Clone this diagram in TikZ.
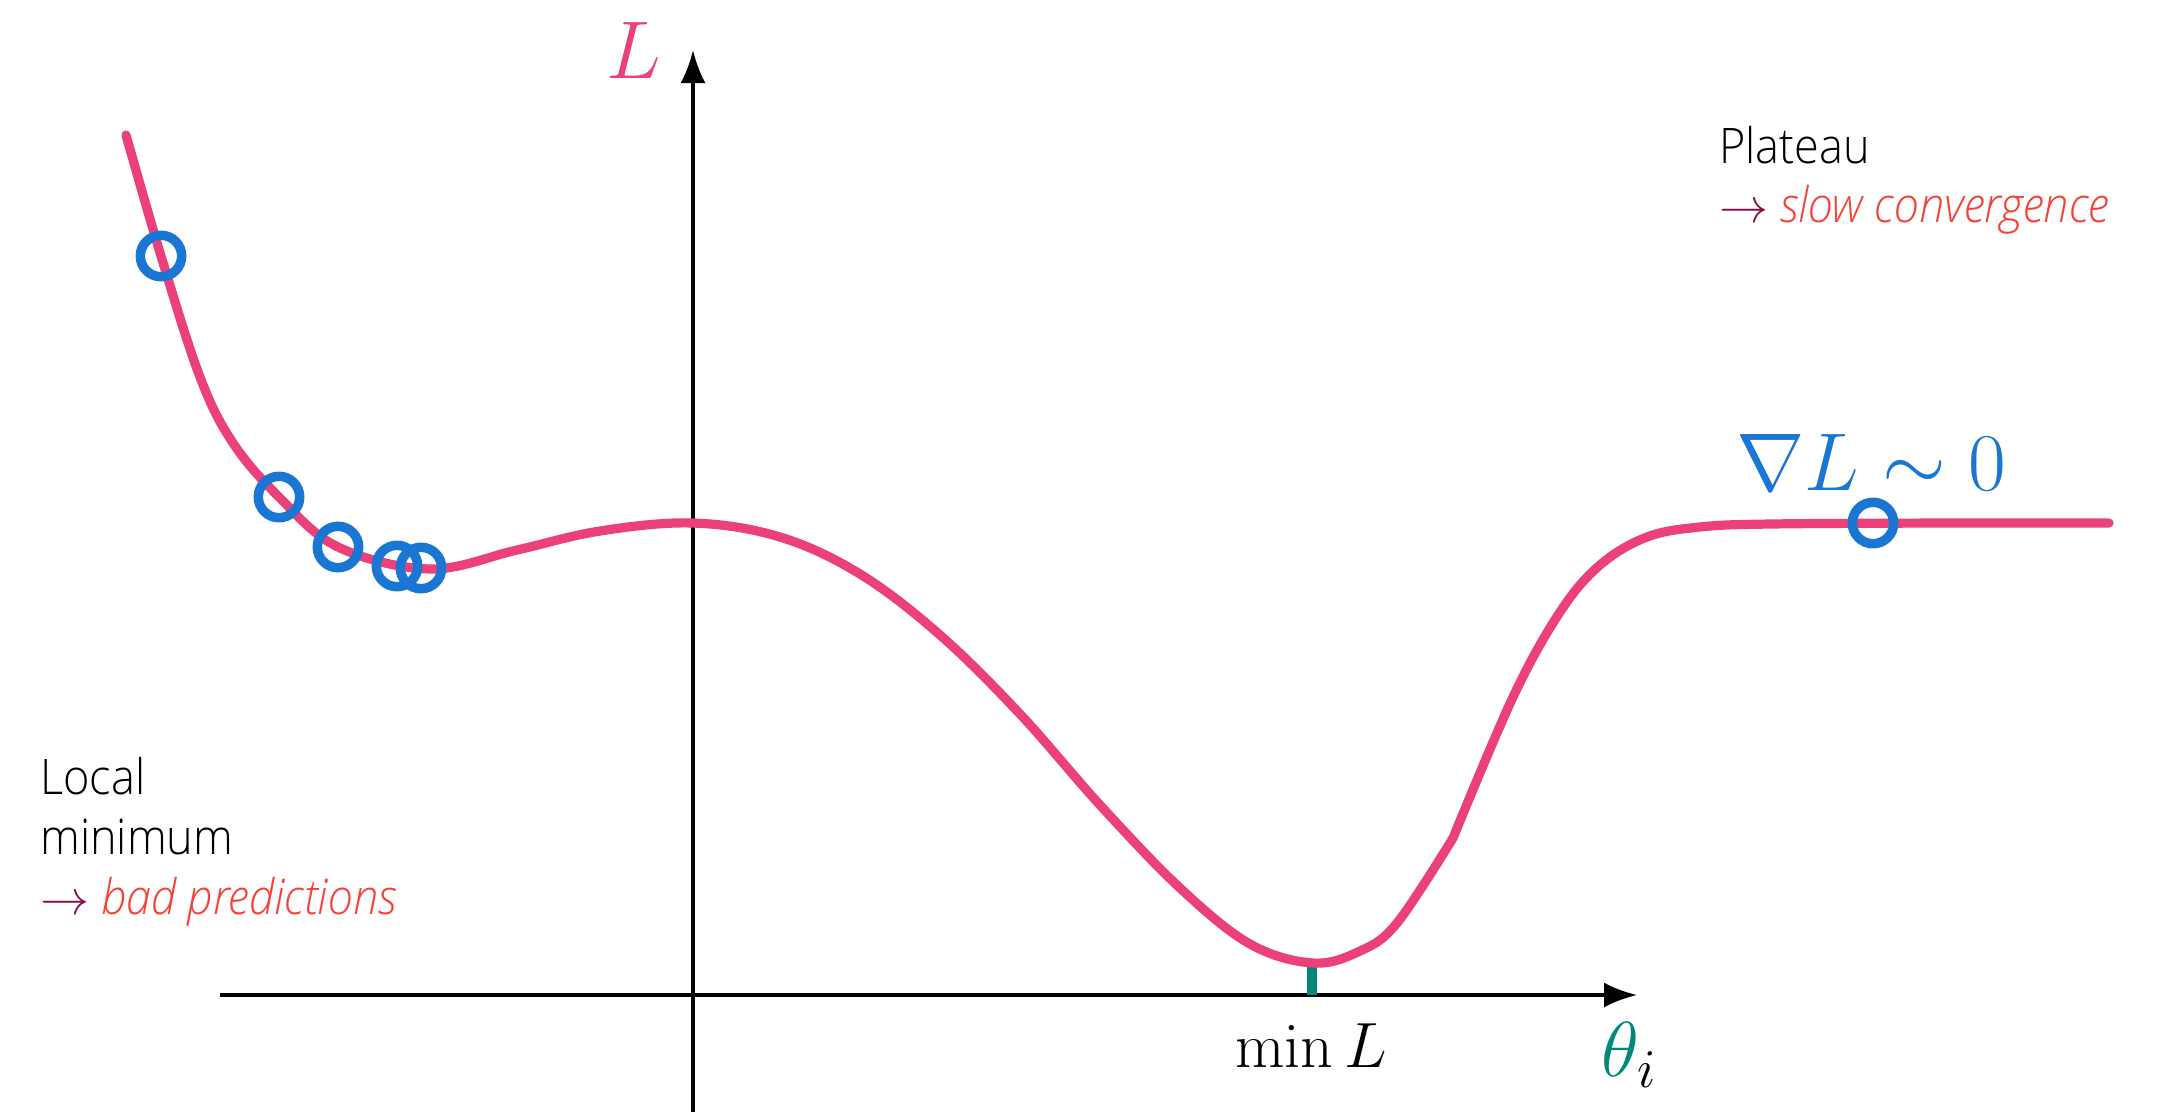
\RequirePackage{fix-cm}
\documentclass[tikz,border=0pt]{standalone}
\usepackage[no-math]{fontspec}
\IfFontExistsTF{Open Sans Light}{%
  \IfFontExistsTF{Open Sans Light Italic}{%
    \setmainfont{Open Sans Light}[FakeStretch=0.92, ItalicFont={Open Sans Light Italic}, ItalicFeatures={FakeStretch=0.92}]}{%
    \setmainfont{Open Sans Light}[FakeStretch=0.92]}}{%
  \setmainfont{Open Sans}[FakeStretch=0.92]}
\usetikzlibrary{arrows.meta}
\definecolor{losspink}{HTML}{EC407A}
\definecolor{ringblue}{HTML}{1976D2}
\definecolor{tealc}{HTML}{00897B}
\definecolor{badred}{HTML}{F44336}
\definecolor{arrowpurple}{HTML}{880E4F}
\tikzset{
  axisline/.style={line width=1.75pt, black, -{Latex[length=16.5pt,width=12.5pt]}},
  lossline/.style={line width=4.6pt, losspink, line cap=round, line join=round},
  ring/.style={circle, draw=ringblue, line width=4.75pt, minimum size=20.7pt, inner sep=0pt},
  txt/.style={anchor=base west, inner sep=0pt, font=\fontsize{24.5}{30}\selectfont},
  bigmath/.style={inner sep=0pt, font=\fontsize{41}{48}\selectfont},
}
\begin{document}
\begin{tikzpicture}[x=0.5pt,y=-0.5pt]
\useasboundingbox (0,0) rectangle (2163,1115);
% axes
\coordinate (ybot) at (693,1112);
\coordinate (ytop) at (693,50);
\coordinate (xleft) at (220,995);
\coordinate (xright) at (1637,995);
\draw[axisline] (ybot) -- (ytop);
\draw[axisline] (xleft) -- (xright);
% min tick
\coordinate (tickA) at (1312,995);
\coordinate (tickB) at (1312,965);
\draw[tealc, line width=4.6pt] (tickA) -- (tickB);
% loss curve
\draw[lossline] plot[smooth, tension=0.6] coordinates {
 (126,135) (161,256) (200,377) (233,443) (279,497) (338,547)
 (430,569) (517,550) (600,531) (693,523) (780,537) (860,574)
 (940,635) (1020,714) (1100,805) (1180,888) (1250,944) (1313,963)
 (1360,951) (1397,923) (1453,838)}
 -- plot[smooth, tension=0.6] coordinates {
 (1453,838) (1513,697) (1560,612) (1600,565) (1647,537) (1700,527)
 (1771,524) (1950,523) (2109,523)};
% rings
\node[ring] (r1) at (161,256) {};
\node[ring] (r2) at (279,497) {};
\node[ring] (r3) at (338,547) {};
\node[ring] (r4) at (397,566) {};
\node[ring] (r5) at (421,568) {};
\node[ring] (r6) at (1873,523) {};
% labels
\node[bigmath, text=losspink, anchor=base] (lL) at (634,78) {$L$};
\node[bigmath, text=ringblue, anchor=base west] (grad) at (1736,490) {$\nabla L\sim 0$};
\node[inner sep=0pt, anchor=base, font=\fontsize{32}{38}\selectfont] (minL) at (1311,1067) {$\min L$};
\node[inner sep=0pt, text=tealc, anchor=base west, font=\fontsize{39}{46}\selectfont] (theta) at (1601,1076) {$\theta_{\textcolor{black}{i}}$};
% text
\node[txt] (pl1) at (1719,163) {Plateau};
\node[txt] (pl2) at (1719,222) {\textcolor{arrowpurple}{$\rightarrow$} \textcolor{badred}{\itshape slow convergence}};
\node[txt] (lm1) at (40,794) {Local};
\node[txt] (lm2) at (40,854) {minimum};
\node[txt] (lm3) at (40,914) {\textcolor{arrowpurple}{$\rightarrow$} \textcolor{badred}{\itshape bad predictions}};
\end{tikzpicture}
\end{document}
